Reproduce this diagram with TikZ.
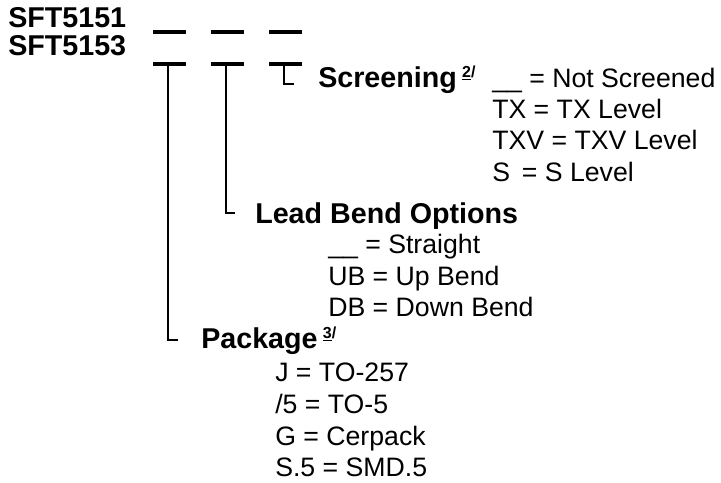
\documentclass[tikz,border=0pt]{standalone}
\usepackage{fontspec}
\setmainfont{Liberation Sans}
\usetikzlibrary{calc}

\newcommand{\supnote}[1]{\raisebox{7.5pt}{\fontsize{12}{13}\selectfont\bfseries\underline{#1}/}}

\begin{document}
\begin{tikzpicture}[x=0.75pt,y=-0.75pt,
		code/.style={anchor=base west,inner sep=0pt,font=\fontsize{21.5}{25}\selectfont\bfseries},
		head/.style={anchor=base west,inner sep=0pt,font=\fontsize{21.5}{25}\selectfont\bfseries},
		item/.style={anchor=base west,inner sep=0pt,font=\fontsize{20}{24}\selectfont},
		blank/.style={line width=2.4pt},
		lead/.style={line width=0.8pt}]
	\useasboundingbox (0,0) rectangle (721,482);
	% part numbers
	\node[code] (sft1) at (8,27) {SFT5151};
	\node[code] (sft3) at (8,55) {SFT5153};
	% the blanks to fill in
	\foreach \i/\x in {1/153,2/211,3/269} {
		\draw[blank] (\x,32) -- ++(33,0);
		\draw[blank] (\x,64) -- ++(33,0);
		\coordinate (b\i) at (\x+15,65);
	}
	% screening
	\node[head] (scr) at (318,87) {Screening\hspace{4pt}\supnote{2}};
	\node[item] (scr1) at (492,87) {\_\_ = Not Screened};
	\node[item] (scr2) at (492,118) {TX = TX Level};
	\node[item] (scr3) at (492,149.5) {TXV = TXV Level};
	\node[item] (scr4) at (492,181) {S \,= S Level};
	% lead bend options
	\node[head] (lbo) at (255,223) {Lead Bend Options};
	\node[item] (lbo1) at (328,253.5) {\_\_ = Straight};
	\node[item] (lbo2) at (328,285) {UB = Up Bend};
	\node[item] (lbo3) at (328,316.5) {DB = Down Bend};
	% package
	\node[head] (pkg) at (201,348) {Package\hspace{4pt}\supnote{3}};
	\node[item] (pkg1) at (275,381.5) {J = TO-257};
	\node[item] (pkg2) at (275,413) {/5 = TO-5};
	\node[item] (pkg3) at (275,445) {G = Cerpack};
	\node[item] (pkg4) at (275,476.5) {S.5 = SMD.5};
	% leaders from the blanks
	\coordinate (e1) at (178,340);
	\coordinate (e2) at (235,213);
	\coordinate (e3) at (294,84);
	\foreach \i in {1,2,3}
		\draw[lead] (b\i) |- (e\i);
\end{tikzpicture}
\end{document}
